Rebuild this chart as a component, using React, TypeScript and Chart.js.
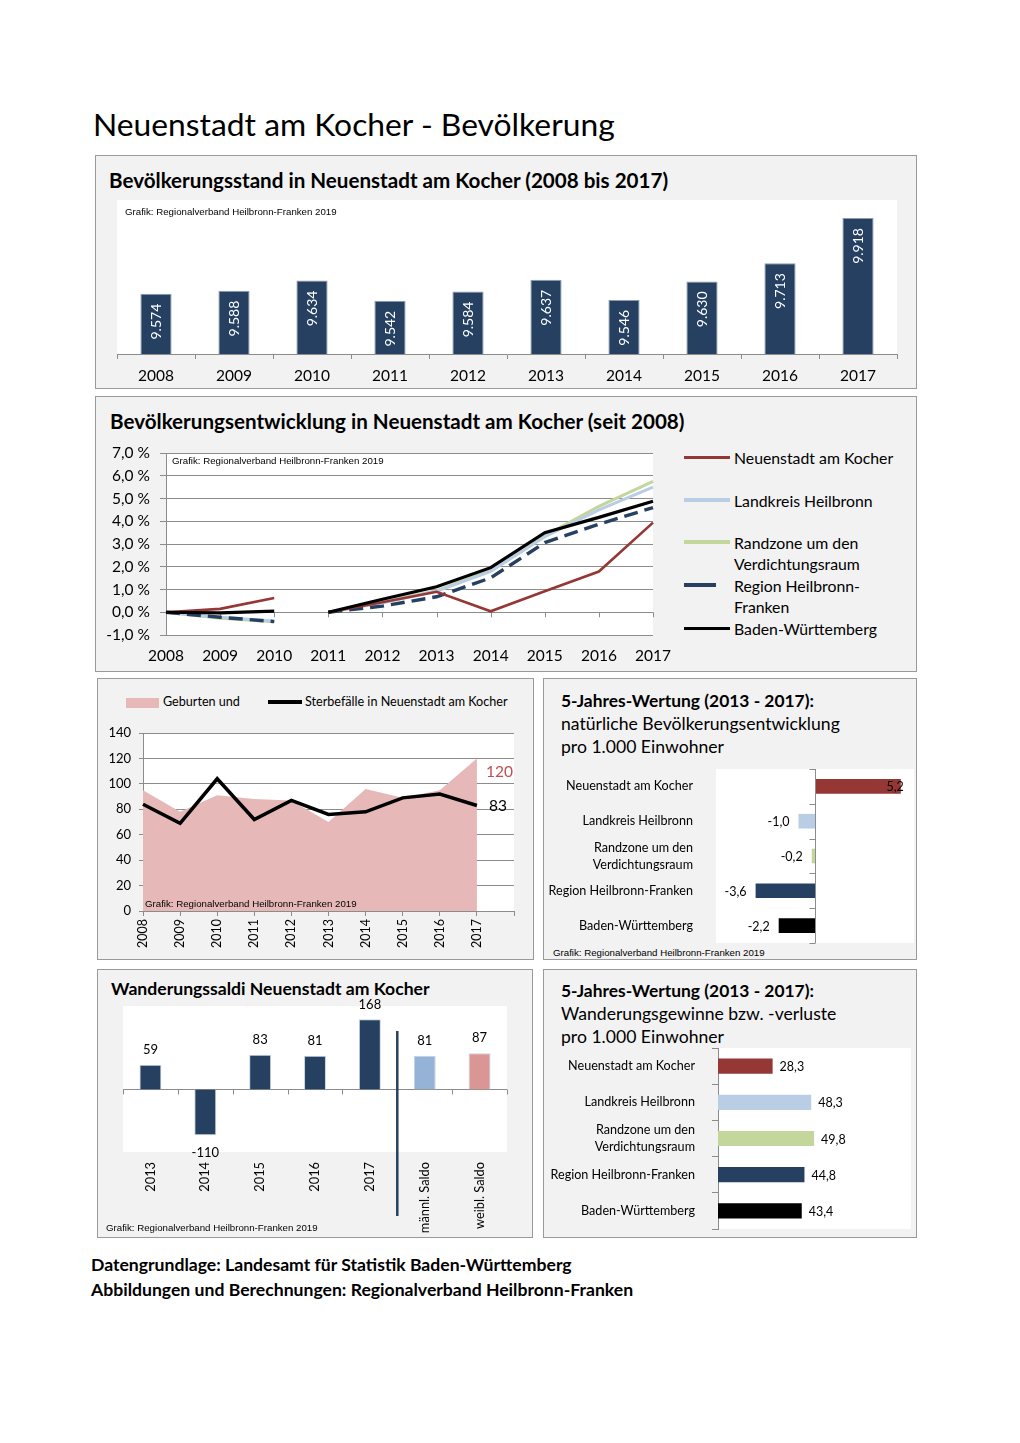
import React, { useEffect, useRef } from 'react';
import { Chart, registerables } from 'chart.js';

Chart.register(...registerables);

const FONT = 'Lato, "Open Sans", "DejaVu Sans", sans-serif';
const ARIAL = '"Liberation Sans", Arial, sans-serif';
const NAVY = '#254061';
const DARKRED = '#953735';
const LIGHTBLUE = '#b9cde5';
const LIGHTGREEN = '#c3d69b';
const MALEBLUE = '#95b3d7';
const FEMALERED = '#d99694';
const BIRTHPINK = '#e6b9b8';
const GRID = '#8c8c8c';
const PANEL_BG = '#f2f2f2';

// ---------- Data ----------
const years = ['2008', '2009', '2010', '2011', '2012', '2013', '2014', '2015', '2016', '2017'];
const populationValues = [9574, 9588, 9634, 9542, 9584, 9637, 9546, 9630, 9713, 9918];

// Bevölkerungsentwicklung in % (new base 2011 after census)
const devNeuenstadt = [0, 0.15, 0.63, 0, 0.44, 0.9, 0.04, 0.92, 1.79, 3.94];
const devLandkreis = [0, -0.22, -0.38, 0, 0.42, 0.92, 1.8, 3.32, 4.5, 5.5];
const devRandzone = [0, -0.26, -0.42, 0, 0.45, 0.95, 1.85, 3.36, 4.65, 5.75];
const devRegion = [0, -0.22, -0.41, 0, 0.27, 0.68, 1.51, 3.06, 3.87, 4.6];
const devBW = [0, -0.03, 0.05, 0, 0.57, 1.12, 1.96, 3.5, 4.17, 4.88];
const devBreakAfterIndex = 2; // line break between 2010 and 2011

const birthYears = ['2008', '2009', '2010', '2011', '2012', '2013', '2014', '2015', '2016', '2017', ''];
const births = [95, 78, 91, 88, 87, 70, 96, 89, 95, 120];
const deaths = [84, 69, 104, 72, 87, 76, 78, 89, 92, 83];

const regionCats: (string | string[])[] = [
  'Neuenstadt am Kocher',
  'Landkreis Heilbronn',
  ['Randzone um den', 'Verdichtungsraum'],
  'Region Heilbronn-Franken',
  'Baden-Württemberg',
];
const regionColors = [DARKRED, LIGHTBLUE, LIGHTGREEN, NAVY, '#000000'];
const naturalValues = [5.2, -1.0, -0.2, -3.6, -2.2];
const migrationRateValues = [28.3, 48.3, 49.8, 44.8, 43.4];

const migCats = ['2013', '2014', '2015', '2016', '2017', 'männl. Saldo', 'weibl. Saldo'];
const migValues = [59, -110, 83, 81, 168, 81, 87];
const migColors = [NAVY, NAVY, NAVY, NAVY, NAVY, MALEBLUE, FEMALERED];

// ---------- helpers ----------
const fmtInt = (v: number) => {
  const s = String(Math.abs(v)).replace(/\B(?=(\d{3})+(?!\d))/g, '.');
  return (v < 0 ? '-' : '') + s;
};
const fmtDec = (v: number) => v.toFixed(1).replace('.', ',');

const zeroPad = (s: any) => {
  s.paddingTop = 0;
  s.paddingBottom = 0;
  s.paddingLeft = 0;
  s.paddingRight = 0;
};
const fixW = (w: number) => (s: any) => {
  s.width = w;
  zeroPad(s);
};
const fixH = (h: number) => (s: any) => {
  s.height = h;
  zeroPad(s);
};

const whiteArea = {
  id: 'whiteArea',
  beforeDraw(chart: any) {
    const { ctx, chartArea: a } = chart;
    ctx.save();
    ctx.fillStyle = '#ffffff';
    ctx.fillRect(a.left, a.top, a.right - a.left, a.bottom - a.top);
    ctx.restore();
  },
};

const base = {
  animation: false,
  responsive: false,
  maintainAspectRatio: false,
  events: [] as string[],
};
const noLegend = { legend: { display: false }, tooltip: { enabled: false } };

function ChartCanvas({ left, top, width, height, make }: any) {
  const ref = useRef<HTMLCanvasElement>(null);
  useEffect(() => {
    const chart = new Chart(ref.current as HTMLCanvasElement, make());
    return () => chart.destroy();
  }, []);
  return (
    <canvas
      ref={ref}
      width={width}
      height={height}
      style={{ position: 'absolute', left, top, width, height }}
    />
  );
}

function Txt({ x, y, size, bold, children, color, font }: any) {
  const lh = Math.round(size * 1.3);
  return (
    <div
      style={{
        position: 'absolute',
        left: x,
        top: y - lh / 2,
        fontSize: size,
        lineHeight: lh + 'px',
        fontWeight: bold ? 700 : 400,
        fontFamily: font || FONT,
        color: color || '#000',
        whiteSpace: 'nowrap',
      }}
    >
      {children}
    </div>
  );
}

function Panel({ x, y, w, h }: any) {
  return (
    <div
      style={{
        position: 'absolute',
        left: x,
        top: y,
        width: w,
        height: h,
        boxSizing: 'border-box',
        background: PANEL_BG,
        border: '1px solid #9a9a9a',
      }}
    />
  );
}

function Swatch({ x, y, w, h, color }: any) {
  return <div style={{ position: 'absolute', left: x, top: y, width: w, height: h, background: color }} />;
}

// ---------- chart configs ----------
const makePopulation = () => ({
  type: 'bar',
  data: {
    labels: years,
    datasets: [
      {
        data: populationValues,
        backgroundColor: NAVY,
        borderColor: '#8d9cb3',
        borderWidth: 1,
        barPercentage: 0.4,
        categoryPercentage: 1,
      },
    ],
  },
  options: {
    ...base,
    layout: { padding: { left: 7, top: 10, right: 8, bottom: 0 } },
    plugins: noLegend,
    scales: {
      x: {
        grid: { display: true, drawOnChartArea: false, drawTicks: true, tickLength: 5, color: GRID, offset: true },
        border: { display: true, color: GRID },
        ticks: { color: '#000', font: { family: FONT, size: 15.5 }, padding: 8, autoSkip: false, maxRotation: 0 },
        afterFit: fixH(34),
      },
      y: { display: false, min: 9300, max: 10000 },
    },
  },
  plugins: [
    whiteArea,
    {
      id: 'popLabels',
      afterDatasetsDraw(chart: any) {
        const { ctx } = chart;
        const meta = chart.getDatasetMeta(0);
        ctx.save();
        ctx.fillStyle = '#ffffff';
        ctx.font = `14px ${FONT}`;
        ctx.textAlign = 'right';
        ctx.textBaseline = 'middle';
        meta.data.forEach((bar: any, i: number) => {
          ctx.save();
          ctx.translate(bar.x, bar.y + 10);
          ctx.rotate(-Math.PI / 2);
          ctx.fillText(fmtInt(populationValues[i]), 0, 0);
          ctx.restore();
        });
        ctx.restore();
      },
    },
  ],
});

const devSeries = [
  { data: devBW, color: '#000000', width: 3.2, dash: [] as number[] },
  { data: devNeuenstadt, color: DARKRED, width: 2.6, dash: [] },
  { data: devRegion, color: NAVY, width: 3.4, dash: [14, 7] },
  { data: devLandkreis, color: LIGHTBLUE, width: 3, dash: [] },
  { data: devRandzone, color: LIGHTGREEN, width: 3, dash: [] },
];

const makeDevelopment = () => ({
  type: 'line',
  data: {
    labels: years,
    datasets: devSeries.map((s) => ({
      data: s.data,
      borderColor: s.color,
      borderWidth: s.width,
      borderDash: s.dash,
      pointRadius: 0,
      tension: 0,
      fill: false,
      segment: {
        borderColor: (ctx: any) => (ctx.p0DataIndex === devBreakAfterIndex ? 'rgba(0,0,0,0)' : undefined),
      },
    })),
  },
  options: {
    ...base,
    layout: { padding: { left: 0, top: 13, right: 25, bottom: 0 } },
    plugins: noLegend,
    scales: {
      x: {
        grid: { display: false, drawTicks: false },
        border: { display: false },
        ticks: { color: '#000', font: { family: FONT, size: 15.5 }, padding: 12, autoSkip: false, maxRotation: 0 },
        afterFit: fixH(33),
      },
      y: {
        min: -1,
        max: 7,
        grid: { color: GRID, tickLength: 6 },
        border: { display: true, color: GRID },
        ticks: {
          stepSize: 1,
          color: '#000',
          font: { family: FONT, size: 15.5 },
          padding: 10,
          callback: (v: any) => fmtDec(Number(v)) + ' %',
        },
        afterFit: fixW(68),
      },
    },
  },
  plugins: [
    whiteArea,
    {
      id: 'zeroTicks',
      beforeDatasetsDraw(chart: any) {
        const { ctx } = chart;
        const xs = chart.scales.x;
        const y0 = chart.scales.y.getPixelForValue(0);
        ctx.save();
        ctx.strokeStyle = GRID;
        ctx.lineWidth = 1;
        years.forEach((_, i) => {
          const px = Math.round(xs.getPixelForValue(i)) + 0.5;
          ctx.beginPath();
          ctx.moveTo(px, y0);
          ctx.lineTo(px, y0 + 5);
          ctx.stroke();
        });
        ctx.restore();
      },
    },
  ],
});

const makeBirths = () => ({
  type: 'line',
  data: {
    labels: birthYears,
    datasets: [
      {
        data: deaths,
        borderColor: '#000000',
        borderWidth: 3.5,
        pointRadius: 0,
        tension: 0,
        fill: false,
        order: 0,
      },
      {
        data: births,
        borderWidth: 0,
        borderColor: 'rgba(0,0,0,0)',
        backgroundColor: BIRTHPINK,
        pointRadius: 0,
        tension: 0,
        fill: 'origin',
        order: 1,
      },
    ],
  },
  options: {
    ...base,
    layout: { padding: { left: 0, top: 11, right: 16, bottom: 0 } },
    plugins: { ...noLegend, filler: { propagate: false } },
    scales: {
      x: {
        grid: { display: true, drawOnChartArea: false, drawTicks: true, tickLength: 5, color: GRID },
        border: { display: true, color: GRID },
        ticks: { color: '#000', font: { family: FONT, size: 12.5 }, padding: 3, autoSkip: false, minRotation: 90, maxRotation: 90 },
        afterFit: fixH(46),
      },
      y: {
        min: 0,
        max: 140,
        grid: { color: GRID, tickLength: 4 },
        border: { display: true, color: GRID },
        ticks: { stepSize: 20, color: '#000', font: { family: FONT, size: 13 }, padding: 8 },
        afterFit: fixW(43),
      },
    },
  },
  plugins: [
    whiteArea,
    {
      id: 'lastLabels',
      afterDatasetsDraw(chart: any) {
        const { ctx } = chart;
        const last = births.length - 1;
        const px = chart.scales.x.getPixelForValue(last);
        const ys = chart.scales.y;
        ctx.save();
        ctx.font = `15.5px ${FONT}`;
        ctx.textAlign = 'left';
        ctx.textBaseline = 'middle';
        ctx.fillStyle = '#c0504d';
        ctx.fillText(String(births[last]), px + 9, ys.getPixelForValue(births[last]) + 14);
        ctx.fillStyle = '#000';
        ctx.fillText(String(deaths[last]), px + 12, ys.getPixelForValue(deaths[last]) + 1);
        ctx.restore();
      },
    },
  ],
});

const makeNatural = () => ({
  type: 'bar',
  data: {
    labels: regionCats,
    datasets: [
      {
        data: naturalValues,
        backgroundColor: regionColors,
        borderWidth: 0,
        barPercentage: 0.42,
        categoryPercentage: 1,
      },
    ],
  },
  options: {
    ...base,
    indexAxis: 'y',
    layout: { padding: { left: 0, top: 9, right: 1, bottom: 3 } },
    plugins: noLegend,
    scales: {
      x: { display: false, min: -6, max: 6 },
      y: {
        grid: { display: false, drawTicks: false },
        border: { display: false },
        ticks: { color: '#000', font: { family: FONT, size: 12.6, lineHeight: 1.35 }, padding: 23, autoSkip: false },
        afterFit: fixW(171),
      },
    },
  },
  plugins: [
    whiteArea,
    {
      id: 'zeroAxis',
      afterDatasetsDraw(chart: any) {
        const { ctx, chartArea: a } = chart;
        const x0 = Math.round(chart.scales.x.getPixelForValue(0)) + 0.5;
        const n = regionCats.length;
        ctx.save();
        ctx.strokeStyle = GRID;
        ctx.lineWidth = 1;
        ctx.beginPath();
        ctx.moveTo(x0, a.top);
        ctx.lineTo(x0, a.bottom);
        for (let i = 0; i <= n; i++) {
          const y = Math.round(a.top + (i * (a.bottom - a.top)) / n) + 0.5;
          ctx.moveTo(x0 - 6, y);
          ctx.lineTo(x0, y);
        }
        ctx.stroke();
        const meta = chart.getDatasetMeta(0);
        ctx.font = `12.5px ${FONT}`;
        ctx.fillStyle = '#000';
        ctx.textBaseline = 'middle';
        ctx.textAlign = 'right';
        meta.data.forEach((bar: any, i: number) => {
          const v = naturalValues[i];
          const tx = v >= 0 ? bar.x + 3 : bar.x - 9;
          ctx.fillText(fmtDec(v), tx, bar.y + 1);
        });
        ctx.restore();
      },
    },
  ],
});

const makeMigration = () => ({
  type: 'bar',
  data: {
    labels: migCats,
    datasets: [
      {
        data: migValues,
        backgroundColor: migColors,
        borderColor: '#c8d2e0',
        borderWidth: 1,
        barPercentage: 0.4,
        categoryPercentage: 1,
      },
    ],
  },
  options: {
    ...base,
    layout: { padding: { left: 23, top: 11, right: 23, bottom: 0 } },
    plugins: noLegend,
    scales: {
      x: {
        grid: { display: false, drawTicks: false },
        border: { display: false },
        ticks: { color: '#000', font: { family: FONT, size: 12.8 }, padding: 10, autoSkip: false, minRotation: 90, maxRotation: 90 },
        afterFit: fixH(83),
      },
      y: { display: false, min: -150, max: 200 },
    },
  },
  plugins: [
    whiteArea,
    {
      id: 'zeroLine',
      beforeDatasetsDraw(chart: any) {
        const { ctx, chartArea: a } = chart;
        const y0 = Math.round(chart.scales.y.getPixelForValue(0)) + 0.5;
        const n = migCats.length;
        ctx.save();
        ctx.strokeStyle = GRID;
        ctx.lineWidth = 1;
        ctx.beginPath();
        ctx.moveTo(a.left, y0);
        ctx.lineTo(a.right, y0);
        for (let i = 0; i <= n; i++) {
          const x = Math.round(a.left + (i * (a.right - a.left)) / n) + 0.5;
          ctx.moveTo(x, y0);
          ctx.lineTo(x, y0 + 5);
        }
        ctx.stroke();
        ctx.restore();
      },
      afterDatasetsDraw(chart: any) {
        const { ctx, chartArea: a } = chart;
        const xs = chart.scales.x;
        const sep = (xs.getPixelForValue(4) + xs.getPixelForValue(5)) / 2;
        ctx.save();
        ctx.strokeStyle = NAVY;
        ctx.lineWidth = 2.5;
        ctx.beginPath();
        ctx.moveTo(sep, a.top + 25);
        ctx.lineTo(sep, a.bottom + 64);
        ctx.stroke();
        const meta = chart.getDatasetMeta(0);
        ctx.font = `13px ${FONT}`;
        ctx.fillStyle = '#000';
        ctx.textAlign = 'center';
        ctx.textBaseline = 'middle';
        meta.data.forEach((bar: any, i: number) => {
          const v = migValues[i];
          ctx.fillText(fmtInt(v), bar.x, v >= 0 ? bar.y - 15 : bar.y + 17);
        });
        ctx.restore();
      },
    },
  ],
});

const makeMigrationRate = () => ({
  type: 'bar',
  data: {
    labels: regionCats,
    datasets: [
      {
        data: migrationRateValues,
        backgroundColor: regionColors,
        borderWidth: 0,
        barPercentage: 0.42,
        categoryPercentage: 1,
      },
    ],
  },
  options: {
    ...base,
    indexAxis: 'y',
    layout: { padding: { left: 0, top: 8, right: 2, bottom: 5 } },
    plugins: noLegend,
    scales: {
      x: { display: false, min: 0, max: 100 },
      y: {
        grid: { display: true, drawOnChartArea: false, drawTicks: true, tickLength: 6, color: GRID, offset: true },
        border: { display: true, color: GRID },
        ticks: { color: '#000', font: { family: FONT, size: 12.6, lineHeight: 1.35 }, padding: 17, autoSkip: false },
        afterFit: fixW(173),
      },
    },
  },
  plugins: [
    whiteArea,
    {
      id: 'rateLabels',
      afterDatasetsDraw(chart: any) {
        const { ctx } = chart;
        const meta = chart.getDatasetMeta(0);
        ctx.save();
        ctx.font = `12.5px ${FONT}`;
        ctx.fillStyle = '#000';
        ctx.textAlign = 'left';
        ctx.textBaseline = 'middle';
        meta.data.forEach((bar: any, i: number) => {
          ctx.fillText(fmtDec(migrationRateValues[i]), bar.x + 7, bar.y + 1);
        });
        ctx.restore();
      },
    },
  ],
});

// ---------- legend entries for development chart ----------
const devLegend = [
  { lines: ['Neuenstadt am Kocher'], color: DARKRED, y: 457, w: 46, h: 3 },
  { lines: ['Landkreis Heilbronn'], color: LIGHTBLUE, y: 500, w: 46, h: 4 },
  { lines: ['Randzone um den', 'Verdichtungsraum'], color: LIGHTGREEN, y: 542, w: 46, h: 4 },
  { lines: ['Region Heilbronn-', 'Franken'], color: NAVY, y: 585, w: 32, h: 4 },
  { lines: ['Baden-Württemberg'], color: '#000000', y: 628, w: 46, h: 3 },
];

const GRAFIK = 'Grafik: Regionalverband Heilbronn-Franken 2019';

export default function App() {
  return (
    <div style={{ position: 'absolute', left: 0, top: 0, width: 1020, height: 1443, background: '#fff', overflow: 'hidden' }}>
      <Txt x={93} y={124} size={31.8}>Neuenstadt am Kocher - Bevölkerung</Txt>

      {/* Panel 1 */}
      <Panel x={95} y={155} w={822} h={234} />
      <Txt x={109} y={180} size={20.6} bold>Bevölkerungsstand in Neuenstadt am Kocher (2008 bis 2017)</Txt>
      <ChartCanvas left={110} top={190} width={795} height={198} make={makePopulation} />
      <Txt x={125} y={211} size={9.7} font={ARIAL}>{GRAFIK}</Txt>

      {/* Panel 2 */}
      <Panel x={95} y={396} w={822} h={276} />
      <Txt x={110} y={421} size={20.6} bold>Bevölkerungsentwicklung in Neuenstadt am Kocher (seit 2008)</Txt>
      <ChartCanvas left={98} top={440} width={580} height={228} make={makeDevelopment} />
      <Txt x={172} y={460} size={9.7} font={ARIAL}>{GRAFIK}</Txt>
      {devLegend.map((e, i) => (
        <React.Fragment key={i}>
          <Swatch x={684} y={e.y - e.h / 2} w={e.w} h={e.h} color={e.color} />
          {e.lines.map((t, j) => (
            <Txt key={j} x={734} y={e.y + j * 21} size={15.8}>{t}</Txt>
          ))}
        </React.Fragment>
      ))}

      {/* Panel 3 */}
      <Panel x={97} y={678} w={437} h={282} />
      <Swatch x={126} y={698} w={33} h={10} color={BIRTHPINK} />
      <Txt x={163} y={702} size={12.6}>Geburten und</Txt>
      <Swatch x={268} y={700} w={34} h={4} color="#000" />
      <Txt x={305} y={702} size={12.6}>Sterbefälle in Neuenstadt am Kocher</Txt>
      <ChartCanvas left={100} top={722} width={430} height={235} make={makeBirths} />
      <Txt x={145} y={903} size={9.7} font={ARIAL}>{GRAFIK}</Txt>

      {/* Panel 4 */}
      <Panel x={543} y={678} w={374} h={282} />
      <Txt x={561} y={700} size={17.4} bold>5-Jahres-Wertung (2013 - 2017):</Txt>
      <Txt x={561} y={723} size={17.6}>natürliche Bevölkerungsentwicklung</Txt>
      <Txt x={561} y={746} size={17.6}>pro 1.000 Einwohner</Txt>
      <ChartCanvas left={545} top={760} width={370} height={186} make={makeNatural} />
      <Txt x={553} y={952} size={9.7} font={ARIAL}>{GRAFIK}</Txt>

      {/* Panel 5 */}
      <Panel x={97} y={969} w={436} h={269} />
      <Txt x={111} y={988} size={17.6} bold>Wanderungssaldi Neuenstadt am Kocher</Txt>
      <ChartCanvas left={100} top={995} width={430} height={240} make={makeMigration} />
      <Txt x={106} y={1227} size={9.7} font={ARIAL}>{GRAFIK}</Txt>

      {/* Panel 6 */}
      <Panel x={543} y={969} w={374} h={269} />
      <Txt x={561} y={990} size={17.4} bold>5-Jahres-Wertung (2013 - 2017):</Txt>
      <Txt x={561} y={1013} size={17.6}>Wanderungsgewinne bzw. -verluste</Txt>
      <Txt x={561} y={1036} size={17.6}>pro 1.000 Einwohner</Txt>
      <ChartCanvas left={545} top={1040} width={368} height={194} make={makeMigrationRate} />

      {/* Footer */}
      <Txt x={91} y={1264} size={17.6} bold>Datengrundlage: Landesamt für Statistik Baden-Württemberg</Txt>
      <Txt x={91} y={1289} size={17.6} bold>Abbildungen und Berechnungen: Regionalverband Heilbronn-Franken</Txt>
    </div>
  );
}
